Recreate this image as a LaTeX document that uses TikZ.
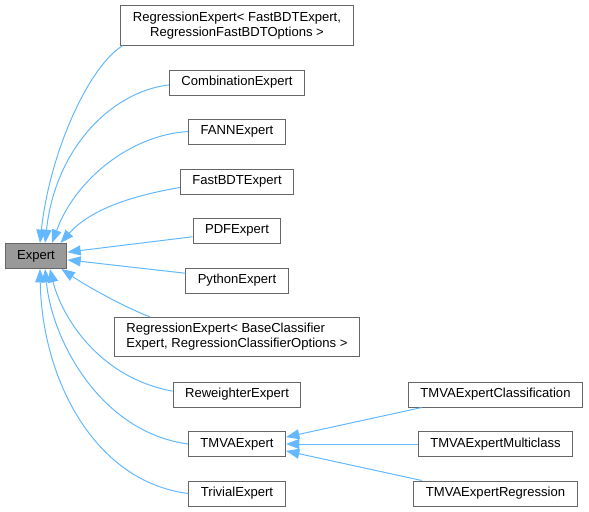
\documentclass[tikz,border=0pt]{standalone}
\usepackage{fontspec}
\setmainfont{Liberation Sans}
\usepackage{tikz}
\usetikzlibrary{arrows.meta}
\definecolor{edgeblue}{HTML}{63B8FF}
\definecolor{boxline}{HTML}{666666}
\definecolor{basefill}{HTML}{999999}
\tikzstyle{cls} = [draw=boxline, line width=0.75pt, fill=white, inner xsep=9pt, inner ysep=4.5pt, minimum height=18.75pt, font=\fontsize{9.8}{11.3}\selectfont]
\tikzstyle{root} = [cls, fill=basefill]
\tikzstyle{inherit} = [edgeblue, line width=0.75pt, -{Triangle[length=10pt,width=7.5pt]}]

\begin{document}
\begin{tikzpicture}[x=0.75pt,y=-0.75pt]
      \useasboundingbox (0,0) rectangle (589,511);
      \node[root] (expert)      at (36,256)    {Expert};
      \node[cls,align=center] (regfast) at (237,25.5) {RegressionExpert< FastBDTExpert,\\RegressionFastBDTOptions >};
      \node[cls] (comb)         at (237,82.5)  {CombinationExpert};
      \node[cls] (fann)         at (237,131.5) {FANNExpert};
      \node[cls] (fastbdt)      at (237,181.5) {FastBDTExpert};
      \node[cls] (pdf)          at (237,230.5) {PDFExpert};
      \node[cls] (python)       at (237,280.5) {PythonExpert};
      \node[cls,align=left] (regbase) at (237,337) {RegressionExpert< BaseClassifier\\Expert, RegressionClassifierOptions >};
      \node[cls] (reweighter)   at (237,394.5) {ReweighterExpert};
      \node[cls] (tmva)         at (237,444)   {TMVAExpert};
      \node[cls] (trivial)      at (237,493.5) {TrivialExpert};
      \node[cls] (tmvaclass)    at (495.5,394.5) {TMVAExpertClassification};
      \node[cls] (tmvamulti)    at (495.5,444)   {TMVAExpertMulticlass};
      \node[cls] (tmvaregr)     at (495.5,493.5) {TMVAExpertRegression};
      \draw[inherit] (regfast.190)    .. controls (90,65)   and (50,150)  .. (expert.73);
      \draw[inherit] (comb.182)       .. controls (110,92)  and (55,150)  .. (expert.55);
      \draw[inherit] (fann.west)      .. controls (130,135) and (75,180)  .. (expert.39);
      \draw[inherit] (fastbdt.186)    .. controls (130,196) and (90,210)  .. (expert.28);
      \draw[inherit] (pdf.188)        -- (expert.7);
      \draw[inherit] (python.172)     -- (expert.-7);
      \draw[inherit] (regbase.167)    .. controls (120,305) and (85,285)  .. (expert.-27);
      \draw[inherit] (reweighter.177) .. controls (100,378) and (62,318)  .. (expert.-43);
      \draw[inherit] (tmva.west)      .. controls (100,432) and (52,340)  .. (expert.-55);
      \draw[inherit] (trivial.west)   .. controls (95,482)  and (42,380)  .. (expert.-73);
      \draw[inherit] (tmvaclass.190.5) -- (tmva.8);
      \draw[inherit] (tmvamulti.west)  -- (tmva.east);
      \draw[inherit] (tmvaregr.170)    -- (tmva.-8);
    \end{tikzpicture}
\end{document}
